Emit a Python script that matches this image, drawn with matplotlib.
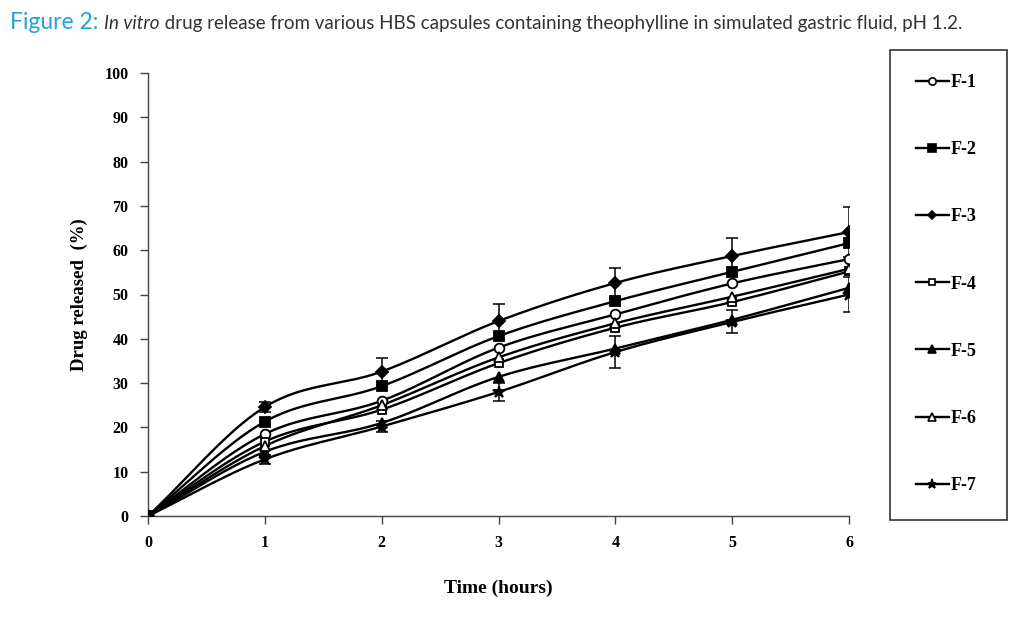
import numpy as np
import matplotlib
matplotlib.use("Agg")
import matplotlib.pyplot as plt
from matplotlib.patches import Rectangle
from matplotlib.lines import Line2D

# Datos
tiempo = [0, 1, 2, 3, 4, 5, 6]
f1 = [0, 18.5, 26.0, 38.0, 45.5, 52.5, 58.0]
f2 = [0, 21.3, 29.3, 40.6, 48.5, 55.1, 61.6]
f3 = [0, 24.6, 32.6, 44.0, 52.6, 58.7, 64.1]
f4 = [0, 16.8, 24.0, 34.5, 42.5, 48.3, 55.2]
f5 = [0, 14.5, 21.0, 31.4, 37.8, 44.3, 51.5]
f6 = [0, 15.8, 25.0, 35.8, 43.5, 49.5, 55.8]
f7 = [0, 12.8, 20.2, 28.0, 37.0, 43.8, 50.0]
err_f3 = [0, 1.2, 3.0, 3.9, 3.4, 4.0, 5.6]
err_f7 = [0, 1.0, 1.2, 2.0, 3.6, 2.6, 4.0]

etiquetas = ["F-1", "F-2", "F-3", "F-4", "F-5", "F-6", "F-7"]
series = [f1, f2, f3, f4, f5, f6, f7]
marcadores = ["o", "s", "D", "s", "^", "^", "*"]
rellenos = ["white", "black", "black", "white", "black", "white", "black"]
tamanos = [7, 7, 6, 6, 7, 7, 9]


def suavizar(x, y, n=24):
    # curva tipo Excel (Catmull-Rom) solo para el trazo
    x = np.asarray(x, float)
    y = np.asarray(y, float)
    px = np.concatenate([[2 * x[0] - x[1]], x, [2 * x[-1] - x[-2]]])
    py = np.concatenate([[2 * y[0] - y[1]], y, [2 * y[-1] - y[-2]]])
    xs, ys = [], []
    t = np.linspace(0, 1, n)
    for i in range(1, len(px) - 2):
        for p, out in ((px, xs), (py, ys)):
            p0, p1, p2, p3 = p[i - 1], p[i], p[i + 1], p[i + 2]
            c1 = p1 + (p2 - p0) / 6
            c2 = p2 - (p3 - p1) / 6
            out.extend((1 - t) ** 3 * p1 + 3 * (1 - t) ** 2 * t * c1
                       + 3 * (1 - t) * t ** 2 * c2 + t ** 3 * p2)
    return xs, ys


fig = plt.figure(figsize=(10.19, 6.25), dpi=100)
ax = fig.add_axes([148 / 1019, 1 - 516 / 625, (849 - 148) / 1019, (516 - 73) / 625])

serif = "Liberation Serif"

ax.errorbar(tiempo, f3, yerr=err_f3, fmt="none", ecolor="black",
            elinewidth=1.1, capsize=4.5, capthick=1.1, zorder=1)
ax.errorbar(tiempo, f7, yerr=err_f7, fmt="none", ecolor="black",
            elinewidth=1.1, capsize=4.5, capthick=1.1, zorder=1)

for y, m, fc, ms in zip(series, marcadores, rellenos, tamanos):
    xs, ys = suavizar(tiempo, y)
    ax.plot(xs, ys, color="black", lw=1.7, zorder=2)
    ax.plot(tiempo, y, ls="none", marker=m, ms=ms, mfc=fc, mec="black",
            mew=1.3, zorder=3)

ax.set_xlim(0, 6)
ax.set_ylim(0, 100)
ax.set_xticks(range(0, 7))
ax.set_yticks(range(0, 101, 10))
for s in ["top", "right"]:
    ax.spines[s].set_visible(False)
for s in ["left", "bottom"]:
    ax.spines[s].set_color("#444444")
    ax.spines[s].set_linewidth(1.0)
ax.tick_params(direction="out", length=6, width=1.0, color="#444444", pad=8)
for lb in ax.get_xticklabels() + ax.get_yticklabels():
    lb.set_fontfamily(serif)
    lb.set_fontweight("bold")
    lb.set_fontsize(11.5)
ax.set_xlabel("Time (hours)", fontfamily=serif, fontweight="bold", fontsize=14, labelpad=20)
ax.set_ylabel("Drug released  (%)", fontfamily=serif, fontweight="bold", fontsize=13.5, labelpad=12)

# Leyenda con marco propio
fig.patches.append(Rectangle((890 / 1019, 1 - 520 / 625), 117 / 1019, 470 / 625,
                             transform=fig.transFigure, fill=False,
                             edgecolor="#333333", lw=1.2))
manijas = [Line2D([0], [0], color="black", lw=1.7, marker=m, ms=ms * 0.75,
                  mfc=fc, mec="black", mew=1.2)
           for m, fc, ms in zip(marcadores, rellenos, tamanos)]
fig.legend(manijas, etiquetas, loc="upper left", bbox_to_anchor=(916 / 1019, 1 - 74 / 625),
           frameon=False, handlelength=1.8, handletextpad=0.1, labelspacing=2.78,
           borderpad=0, borderaxespad=0,
           prop={"family": serif, "weight": "bold", "size": 13})

# Titulo en partes
fig.canvas.draw()
r = fig.canvas.get_renderer()
partes = [("Figure 2: ", "#20A3DC", 16.5, "normal"),
          ("In vitro", "#333333", 13.5, "italic"),
          (" drug release from various HBS capsules containing theophylline in simulated gastric fluid, pH 1.2.",
           "#333333", 13.5, "normal")]
x = 10
for txt, col, sz, st in partes:
    t = fig.text(x / 1019, 1 - 29 / 625, txt, color=col, fontsize=sz, style=st,
                 fontfamily="Lato", va="baseline", ha="left")
    x += t.get_window_extent(r).width

fig.savefig("out.png", dpi=100)
